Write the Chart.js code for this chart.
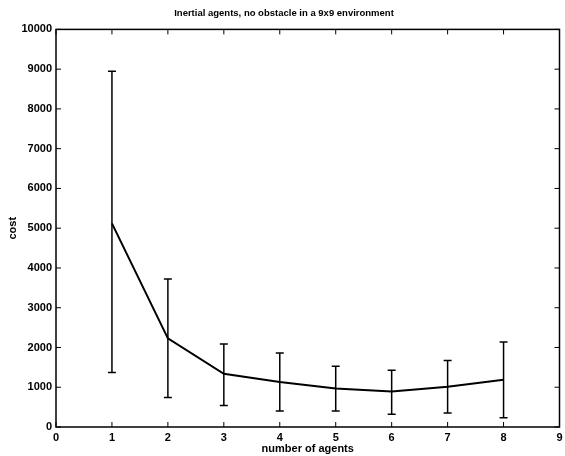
<!DOCTYPE html>
<html>
<head>
<meta charset="utf-8">
<script src="https://cdn.jsdelivr.net/npm/chart.js@4/dist/chart.umd.min.js"></script>
<style>
  html, body { margin: 0; padding: 0; background: #fff; }
  #wrap { width: 565px; height: 456px; }
</style>
</head>
<body>
<div id="wrap"><canvas id="costChart" width="565" height="456"></canvas></div>
<script>
// values
const agents = [1, 2, 3, 4, 5, 6, 7, 8];
const costMean = [5120, 2230, 1340, 1130, 970, 890, 1010, 1190];
const costHigh = [8950, 3720, 2090, 1860, 1530, 1430, 1670, 2140];
const costLow = [1370, 740, 540, 400, 400, 320, 350, 230];
const xTicks = [0, 1, 2, 3, 4, 5, 6, 7, 8, 9];
const yTicks = [0, 1000, 2000, 3000, 4000, 5000, 6000, 7000, 8000, 9000, 10000];

const labelFont = { family: 'Liberation Sans', size: 11, weight: 'bold' };

// one small dataset per error bar, caps drawn as 'line' points
const errorSets = agents.map((a, i) => ({
    data: [{ x: a, y: costLow[i] }, { x: a, y: costHigh[i] }],
    borderColor: '#000',
    borderWidth: 1.5,
    pointStyle: 'line',
    pointRadius: 4,
    pointBorderWidth: 1.5,
    pointBorderColor: '#000',
    showLine: true,
    fill: false
}));

// matlab style box with ticks pointing inwards
const boxTicks = {
    id: 'boxTicks',
    afterDraw(chart) {
        const { ctx, chartArea: a, scales } = chart;
        ctx.save();
        ctx.strokeStyle = '#000';
        ctx.lineWidth = 1.5;
        ctx.strokeRect(a.left, a.top, a.right - a.left, a.bottom - a.top);
        ctx.lineWidth = 1;
        ctx.beginPath();
        xTicks.forEach(v => {
            const px = scales.x.getPixelForValue(v);
            ctx.moveTo(px, a.bottom); ctx.lineTo(px, a.bottom - 5);
            ctx.moveTo(px, a.top); ctx.lineTo(px, a.top + 5);
        });
        yTicks.forEach(v => {
            const py = scales.y.getPixelForValue(v);
            ctx.moveTo(a.left, py); ctx.lineTo(a.left + 5, py);
            ctx.moveTo(a.right, py); ctx.lineTo(a.right - 5, py);
        });
        ctx.stroke();
        ctx.restore();
    }
};

new Chart(document.getElementById('costChart').getContext('2d'), {
    type: 'line',
    data: {
        datasets: [{
            data: agents.map((a, i) => ({ x: a, y: costMean[i] })),
            borderColor: '#000',
            borderWidth: 2,
            pointRadius: 0,
            tension: 0,
            fill: false
        }, ...errorSets]
    },
    options: {
        responsive: false,
        animation: false,
        maintainAspectRatio: false,
        layout: { padding: { left: 0, right: -3, top: 0, bottom: 0 } },
        scales: {
            x: {
                type: 'linear',
                min: 0,
                max: 9,
                grid: { display: false, drawTicks: false },
                border: { display: false },
                afterBuildTicks: s => { s.ticks = xTicks.map(v => ({ value: v })); },
                ticks: { color: '#000', font: labelFont, padding: 4, callback: v => String(v) },
                title: {
                    display: true,
                    text: 'number of agents',
                    color: '#000',
                    font: labelFont,
                    padding: { top: 0, bottom: 0 }
                },
                afterFit: s => { s.height = 29; s.paddingLeft = 0; s.paddingRight = 0; }
            },
            y: {
                min: 0,
                max: 10000,
                grid: { display: false, drawTicks: false },
                border: { display: false },
                afterBuildTicks: s => { s.ticks = yTicks.map(v => ({ value: v })); },
                ticks: { color: '#000', font: labelFont, padding: 4, callback: v => String(v) },
                title: {
                    display: true,
                    text: 'cost',
                    color: '#000',
                    font: labelFont,
                    padding: { top: 6, bottom: 0 }
                },
                afterFit: s => { s.width = 56; s.paddingTop = 0; s.paddingBottom = 0; }
            }
        },
        plugins: {
            legend: { display: false },
            tooltip: { enabled: false },
            title: {
                display: true,
                text: 'Inertial agents, no obstacle in a 9x9 environment',
                color: '#000',
                font: { family: 'Liberation Sans', size: 9.5, weight: 'bold' },
                padding: { top: 8, bottom: 10 }
            }
        }
    },
    plugins: [boxTicks]
});
</script>
</body>
</html>
